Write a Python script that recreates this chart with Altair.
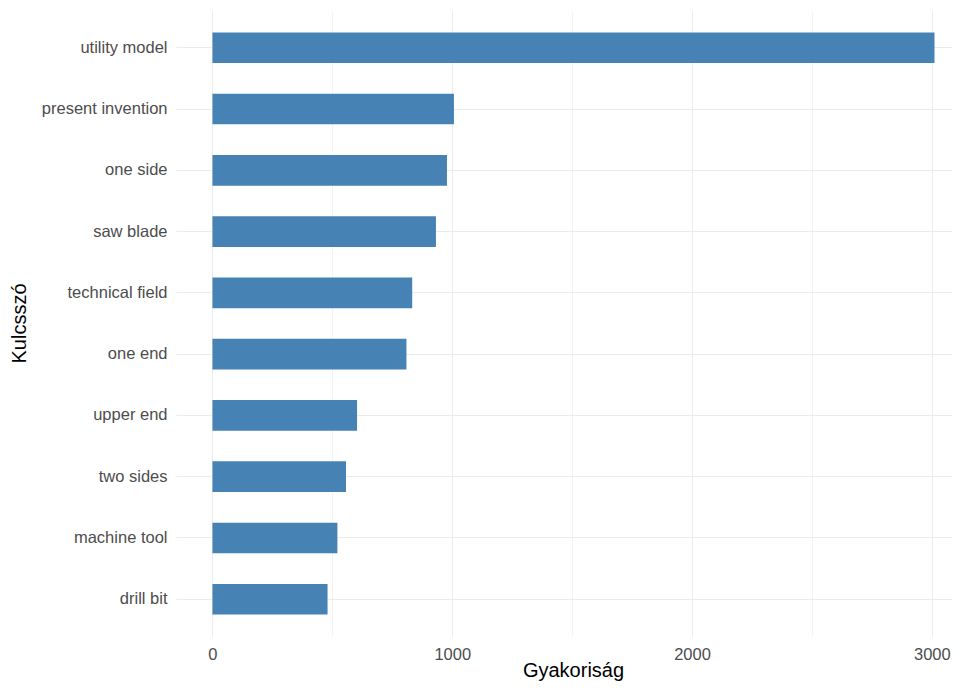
import altair as alt
import pandas as pd

keywords = ["utility model", "present invention", "one side", "saw blade",
            "technical field", "one end", "upper end", "two sides",
            "machine tool", "drill bit"]
counts = [3011, 1007, 978, 932, 833, 809, 603, 557, 521, 480]
x_ticks = [0, 500, 1000, 1500, 2000, 2500, 3000]

df = pd.DataFrame({"Kulcsszó": keywords, "Gyakoriság": counts})

FONT = "Liberation Sans"

x_axis = alt.Axis(
    values=x_ticks, format="d",
    labelExpr="datum.value % 1000 === 0 ? datum.label : ''",
    grid=True, gridColor="#EBEBEB",
    gridWidth=alt.condition("datum.value % 1000 === 0", alt.value(1.1), alt.value(0.6)),
    domain=False, ticks=False,
    labelFont=FONT, labelFontSize=16.5, labelColor="#4D4D4D", labelPadding=10,
    title="Gyakoriság", titleFont=FONT, titleFontSize=20,
    titleFontWeight="normal", titleColor="#000000",
    titleX=397, titleY=40, titleAlign="center", titleBaseline="alphabetic",
)

y_axis = alt.Axis(
    grid=True, gridColor="#EBEBEB", gridWidth=1.1, bandPosition=0.5,
    domain=False, ticks=False,
    labelFont=FONT, labelFontSize=16.5, labelColor="#4D4D4D", labelPadding=9,
    title="Kulcsszó", titleFont=FONT, titleFontSize=20,
    titleFontWeight="normal", titleColor="#000000",
    titleX=-157, titleY=312, titleAlign="center", titleBaseline="middle",
    titleAngle=270,
)

chart = alt.Chart(df).mark_bar(color="#4682B4").encode(
    x=alt.X("Gyakoriság:Q",
            scale=alt.Scale(domain=[-152, 3084], nice=False, zero=False),
            axis=x_axis),
    y=alt.Y("Kulcsszó:N", sort=keywords,
            scale=alt.Scale(paddingInner=0.5, paddingOuter=0.35),
            axis=y_axis),
).properties(
    width=776, height=625,
    autosize=alt.AutoSizeParams(type="none"),
    padding={"left": 168, "top": 3, "right": 0, "bottom": 46},
).configure(background="white").configure_view(stroke=None)

chart.save("out.html", embed_options={"renderer": "svg", "actions": False})
